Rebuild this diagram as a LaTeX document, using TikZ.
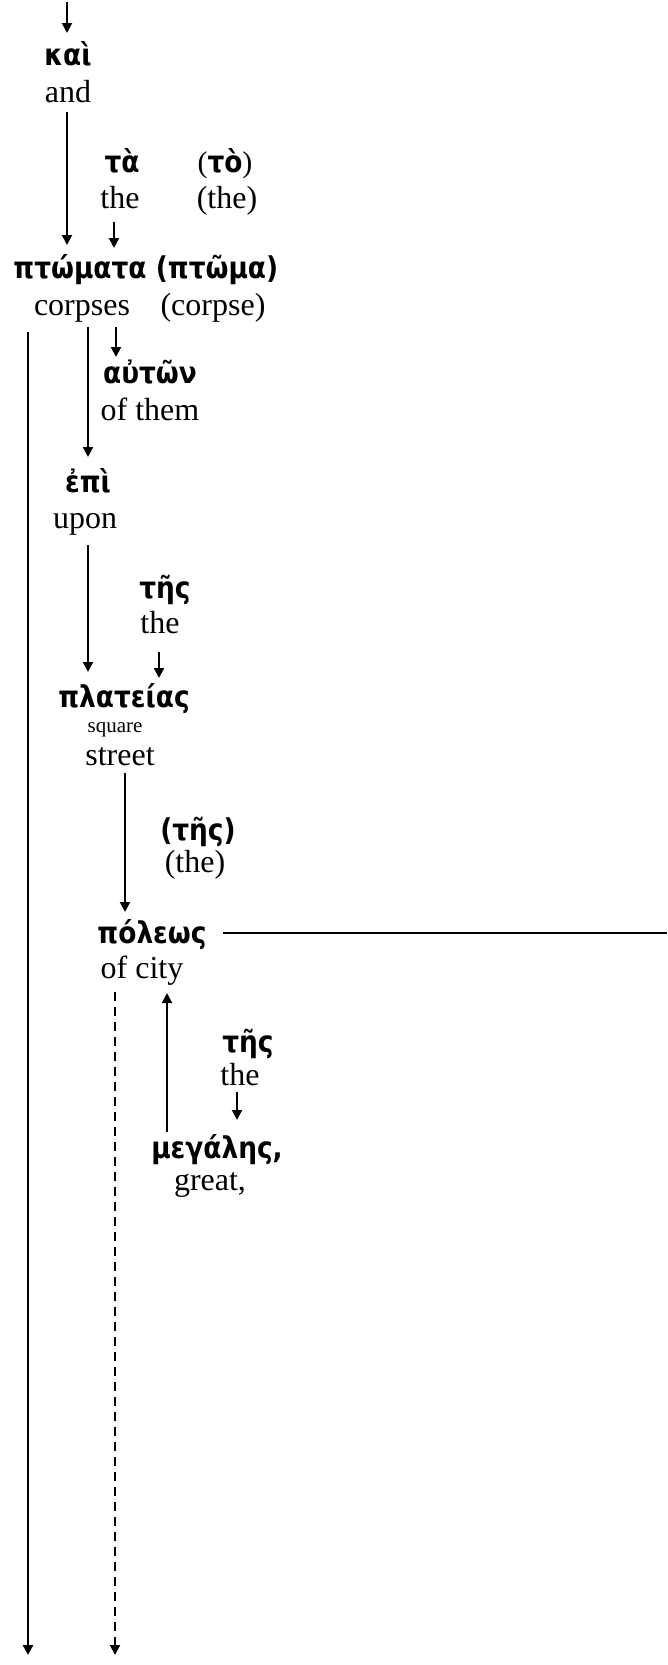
\documentclass[tikz,border=0pt]{standalone}
\usepackage{fontspec}
\setmainfont{Liberation Serif}
\newfontfamily\grkfont[FakeStretch=0.88]{DejaVu Sans}
\usetikzlibrary{arrows.meta,calc}
\begin{document}
\begin{tikzpicture}[x=1pt,y=-1pt,
  gk/.style={anchor=base,inner sep=0pt,font=\grkfont\bfseries\fontsize{30}{34}\selectfont},
  en/.style={anchor=base,inner sep=0pt,font=\fontsize{32}{36}\selectfont},
  sm/.style={anchor=base,inner sep=0pt,font=\fontsize{21}{24}\selectfont},
  arr/.style={line width=2pt,-{Triangle[width=10pt,length=10pt]}},
  longarr/.style={line width=2.4pt,-{Triangle[width=10pt,length=10pt]}},
  dasharr/.style={line width=2pt,dash pattern=on 9pt off 6pt,-{Triangle[width=10pt,length=10pt]}},
  hline/.style={line width=1.5pt}
]
\useasboundingbox (0,0) rectangle (667,1665);

% words
\node[gk] (kai) at (68,65) {καὶ};
\node[en] (and) at (68,102) {and};
\node[gk] (ta) at (122,172) {τὰ};
\node[en] (the1) at (120,208) {the};
\node[gk] (to) at (225,172) {{\rmfamily\mdseries(}τὸ{\rmfamily\mdseries)}};
\node[en] (the2) at (227,208) {(the)};
\node[gk] (ptomata) at (80,278) {πτώματα};
\node[gk] (ptoma) at (217,278) {(πτῶμα)};
\node[en] (corpses) at (82,315) {corpses};
\node[en] (corpse) at (213,315) {(corpse)};
\node[gk] (auton) at (150,383) {αὐτῶν};
\node[en] (ofthem) at (150,420) {of them};
\node[gk] (epi) at (88,492) {ἐπὶ};
\node[en] (upon) at (85,528) {upon};
\node[gk] (tes1) at (165,598) {τῆς};
\node[en] (the3) at (160,633) {the};
\node[gk] (plateias) at (124,707) {πλατείας};
\node[sm] (square) at (115,732) {square};
\node[en] (street) at (120,765) {street};
\node[gk] (tes2) at (198,840) {(τῆς)};
\node[en] (the4) at (195,872) {(the)};
\node[gk] (poleos) at (152,943) {πόλεως};
\node[en] (ofcity) at (142,978) {of city};
\node[gk] (tes3) at (248,1052) {τῆς};
\node[en] (the5) at (240,1085) {the};
\node[gk] (megales) at (217,1158) {μεγάλης,};
\node[en] (great) at (210,1190) {great,};

% free ends
\coordinate (topstart) at (67,2);
\coordinate (rightend) at (667,933);
\coordinate (botL) at (28,1655);
\coordinate (botR) at (115,1655);

% connectors
\draw[arr] (topstart) -- ($(kai.base)+(-1,-32)$);
\draw[arr] ($(and.base)+(-1,10)$) -- ($(ptomata.base)+(-13,-33)$);
\draw[arr] ($(the1.base)+(-6,14)$) -- ($(ptomata.base)+(34,-30)$);
\draw[arr] ($(corpses.base)+(6,12)$) -- ($(epi.base)+(0,-35)$);
\draw[arr] ($(corpses.base)+(34,12)$) -- ($(auton.base)+(-34,-26)$);
\draw[arr] ($(upon.base)+(3,17)$) -- ($(plateias.base)+(-36,-35)$);
\draw[arr] ($(the3.base)+(-1,19)$) -- ($(plateias.base)+(35,-29)$);
\draw[arr] ($(street.base)+(5,8)$) -- ($(poleos.base)+(-27,-31)$);
\draw[arr] ($(megales.base)+(-50,-26)$) -- ($(ofcity.base)+(25,15)$);
\draw[arr] ($(the5.base)+(-3,7)$) -- ($(megales.base)+(20,-38)$);
\draw[hline] ($(poleos.base)+(71,-10)$) -- (rightend);
\draw[longarr] ($(corpses.base)+(-54,17)$) -- (botL);
\draw[dasharr] ($(ofcity.base)+(-27,14)$) -- (botR);
\end{tikzpicture}
\end{document}
